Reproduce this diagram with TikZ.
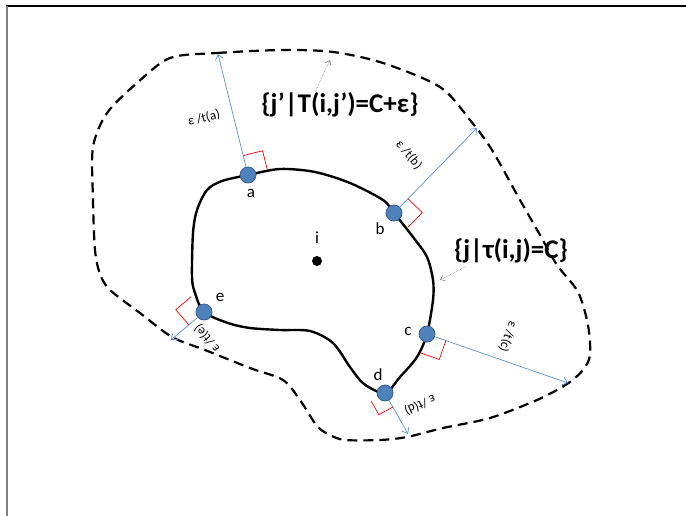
\documentclass[tikz,border=0pt]{standalone}
\usepackage{fontspec}
\setmainfont{Carlito}
\usetikzlibrary{calc,arrows.meta}
\definecolor{dotfill}{HTML}{4F81BD}
\definecolor{dotline}{HTML}{385D8A}
\definecolor{normline}{HTML}{5B8FD0}
\begin{document}
\begin{tikzpicture}[x=1pt,y=-1pt,
  pt/.style={circle,fill=dotfill,draw=dotline,line width=0.8pt,minimum size=16pt,inner sep=0pt},
  normal/.style={draw=normline,line width=0.7pt,-{Straight Barb[length=5pt,width=8pt]}},
  rightangle/.style={draw=red,line width=0.7pt},
  ptlabel/.style={font=\fontsize{17}{17}\selectfont,inner sep=0pt},
  elabel/.style={font=\fontsize{13}{13}\selectfont,inner sep=0pt},
  setlabel/.style={font=\bfseries\fontsize{27}{27}\selectfont,inner sep=0pt},
  pointer/.style={draw=gray,densely dotted,line width=0.6pt,-{Straight Barb[length=4pt,width=6pt]}},
  boundary/.style={line width=2.4pt},
  outer/.style={line width=2.2pt,dash pattern=on 10pt off 6pt}]
\useasboundingbox (0,0) rectangle (686,516);
% frame
\draw[line width=1.5pt] (6,6) -- (686,6);
\draw[gray,line width=2pt] (6.5,6) -- (6.5,516);
% outer dashed set
\draw[outer] plot[smooth cycle] coordinates {
 (170,58) (217,53) (283,50) (333,52) (383,63) (440,87) (470,120) (492,150)
 (520,200) (540,235) (557,265) (578,292) (588,325) (590,355) (583,370) (567,384)
 (537,400) (490,418) (443,428) (407,437) (380,440) (345,440) (330,435) (317,426)
 (300,400) (283,380) (250,368) (205,350) (172,337) (140,313) (110,290) (100,274)
 (95,250) (93,200) (93,147) (107,113) (137,83)};
% inner solid set
\draw[boundary] plot[smooth cycle] coordinates {
 (248,175) (280,169) (315,172) (350,183) (383,200) (394,213) (413,237) (427,257)
 (433,280) (433,300) (427,334) (417,357) (400,377) (385,393) (364,384) (350,367)
 (333,343) (310,331) (280,330) (250,328) (228,323) (204,312) (195,293) (192,277)
 (193,233) (197,210) (207,190) (222,181)};
% points
\node[pt] (a) at (248,175) {};
\node[pt] (b) at (394,213) {};
\node[pt] (c) at (427,334) {};
\node[pt] (d) at (385,393) {};
\node[pt] (e) at (204,312) {};
\node[circle,fill=black,minimum size=10pt,inner sep=0pt] (i) at (317,261) {};
% normal ends
\coordinate (ta) at (218,54);
\coordinate (tb) at (477,128);
\coordinate (tc) at (568,383);
\coordinate (td) at (408,434);
\coordinate (te) at (171,340);
\foreach \p in {a,b,c,d,e} { \draw[normal] (\p) -- (t\p); }
\foreach \p/\s in {a/20pt,b/20pt,c/20pt,d/16pt,e/20pt} {
  \draw[rightangle] ($(\p)!\s!(t\p)$) coordinate (\p1) -- ($(\p1)!\s!90:(\p)$) -- ($(\p)!\s!-90:(t\p)$);
}
% point labels
\node[ptlabel] (na) at (251,193) {a};
\node[ptlabel] (nb) at (380,229) {b};
\node[ptlabel] (nc) at (408,331) {c};
\node[ptlabel] (nd) at (378,375) {d};
\node[ptlabel] (ne) at (220,297) {e};
\node[ptlabel] (ni) at (317,238) {i};
% normal labels
\node[elabel,rotate=14] (la) at (204,118) {ε /t(a)};
\node[elabel,rotate=-50] (lb) at (409,155) {ε /t(b)};
\node[elabel,rotate=-109] (lc) at (508,337) {ε /t(c)};
\node[elabel,rotate=-155] (ld) at (420,405) {ε /t(d)};
\node[elabel,rotate=130] (le) at (207,338) {ε /t(e)};
% set labels
\node[setlabel] (s1) at (340,105) {\{j’|T(i,j’)=C+ε\}};
\node[setlabel] (s2) at (511,251) {\{j|τ(i,j)=C\}};
\coordinate (p1s) at (315,92);
\coordinate (p1e) at (330,60);
\coordinate (p2s) at (465,267);
\coordinate (p2e) at (440,280);
\draw[pointer] (p1s) -- (p1e);
\draw[pointer] (p2s) -- (p2e);
\end{tikzpicture}
\end{document}
